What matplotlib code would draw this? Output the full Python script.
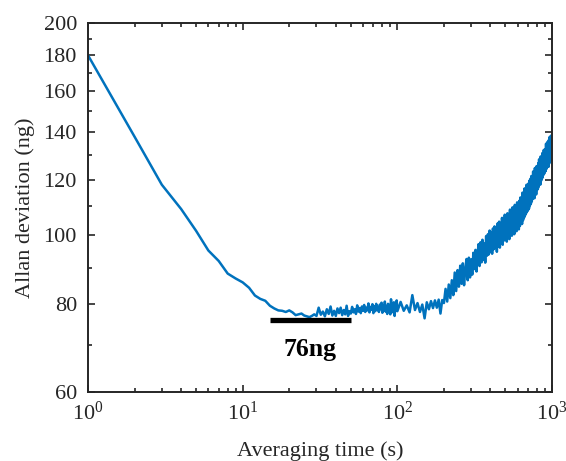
import numpy as np
import matplotlib
matplotlib.use("Agg")
import matplotlib.pyplot as plt
from matplotlib.ticker import NullFormatter, LogLocator

plt.rcParams['font.family'] = ['Liberation Serif', 'DejaVu Serif']
plt.rcParams['mathtext.fontset'] = 'custom'
plt.rcParams['mathtext.rm'] = 'Liberation Serif'

# averaging time grids (s)
tau_a = np.arange(1, 31)
tau_b = np.arange(31, 101)
tau_c = np.arange(105, 1001, 5)

# Allan deviation (ng)
adev_a = [180.0, 138.0, 118.0, 109.0, 101.5, 95.2, 92.0, 88.3, 86.9, 85.8,
          84.3, 82.2, 81.3, 80.8, 79.5, 78.8, 78.3, 78.2, 77.9, 78.3,
          77.8, 77.1, 77.3, 77.5, 77.0, 76.8, 76.6, 76.9, 77.3, 76.9]
adev_b = [79.0, 77.2, 78.0, 76.8, 78.6, 77.4, 79.3, 77.0, 78.2, 76.9,
          78.8, 77.6, 79.0, 77.1, 78.4, 77.3, 79.5, 76.9, 78.1, 77.5,
          79.2, 77.8, 78.6, 77.4, 79.6, 78.0, 78.9, 77.6, 79.3, 78.2,
          79.7, 77.9, 79.0, 78.3, 80.1, 77.8, 79.2, 78.5, 79.9, 77.6,
          79.4, 78.1, 80.0, 78.4, 79.1, 77.9, 79.8, 78.6, 80.3, 77.7,
          79.5, 78.2, 80.6, 78.0, 79.2, 77.4, 80.0, 78.5, 79.7, 77.3,
          81.2, 78.6, 79.4, 77.8, 80.4, 76.9, 79.6, 78.3, 80.9, 78.1]
adev_c = [80.5, 78.2, 79.6, 77.8, 82.3, 78.4, 80.2, 77.9, 79.8, 76.3,
          80.4, 78.6, 80.7, 78.9, 80.9, 79.0, 81.1, 77.5, 81.0, 80.2,
          84.0, 80.6, 85.2, 81.5, 86.4, 82.3, 88.6, 83.4, 89.3, 84.6,
          90.6, 85.4, 91.3, 85.0, 89.7, 92.6, 86.4, 93.0, 87.2, 92.5,
          88.0, 94.5, 89.6, 95.4, 88.9, 94.0, 97.2, 90.5, 97.8, 91.6,
          98.6, 92.3, 97.4, 91.5, 99.8, 93.6, 100.4, 94.0, 101.6, 94.7,
          101.0, 94.2, 102.3, 95.6, 103.0, 96.0, 101.4, 94.8, 104.0, 96.5,
          104.6, 96.1, 103.0, 97.6, 105.9, 97.0, 104.5, 98.4, 107.0, 98.6,
          105.8, 98.0, 107.5, 99.4, 105.6, 98.8, 108.8, 100.2, 107.4, 99.9,
          109.6, 101.0, 108.3, 100.4, 110.5, 102.0, 109.2, 101.4, 111.4, 102.8,
          110.8, 102.0, 112.0, 103.1, 113.2, 104.6, 112.3, 103.8, 115.0, 105.1,
          114.2, 106.0, 116.6, 106.8, 115.4, 107.5, 118.0, 108.1, 116.9, 108.6,
          118.5, 109.2, 119.6, 110.3, 120.3, 110.9, 121.4, 111.7, 119.8, 112.6,
          123.2, 113.5, 122.0, 112.9, 124.6, 114.8, 123.7, 114.3, 125.4, 116.0,
          125.0, 116.3, 126.6, 117.2, 128.2, 118.6, 127.0, 118.0, 129.4, 119.5,
          128.6, 120.3, 130.8, 120.9, 129.3, 121.8, 132.2, 122.3, 131.1, 123.0,
          132.5, 123.4, 134.9, 124.2, 133.4, 124.9, 135.7, 125.5, 134.3, 125.1,
          136.6, 126.5, 137.9, 127.2, 136.1, 127.9, 138.5, 128.6, 138.0, 131.0]

tau = np.concatenate([tau_a, tau_b, tau_c])
adev = np.concatenate([adev_a, adev_b, adev_c])

# minimum marker
min_tau = [15, 50]
min_val = [76, 76]
min_label = '76ng'

yticks = [60, 80, 100, 120, 140, 160, 180, 200]
yminor = [70, 90, 110, 130, 150, 170, 190]

fig = plt.figure(figsize=(5.66, 4.61), dpi=100)
ax = fig.add_axes([0.1555, 0.1497, 0.8198, 0.8004])

ax.plot(tau, adev, color=(0, 0.447, 0.741), lw=1.8)
ax.plot(min_tau, min_val, color='black', lw=3.8, solid_capstyle='butt')
ax.text(27.2, 69.0, min_label, ha='center', va='center',
        fontsize=18.5, fontweight='bold')

ax.set_xscale('log')
ax.set_yscale('log')
ax.set_xlim(1, 1000)
ax.set_ylim(60, 200)

ax.set_yticks(yticks)
ax.set_yticklabels([str(v) for v in yticks])
ax.set_yticks(yminor, minor=True)
ax.yaxis.set_minor_formatter(NullFormatter())
ax.xaxis.set_minor_locator(LogLocator(base=10, subs=np.arange(2, 10)))
ax.xaxis.set_minor_formatter(NullFormatter())

ax.tick_params(which='both', direction='in', top=True, right=True,
               labelsize=16, width=1.2, colors='#262626')
ax.tick_params(which='major', length=5)
ax.tick_params(axis='y', which='major', pad=8)
ax.tick_params(axis='x', which='major', pad=7)
ax.tick_params(which='minor', length=3)
for s in ax.spines.values():
    s.set_linewidth(1.4)
    s.set_color('#262626')

ax.set_xlabel('Averaging time (s)', fontsize=16, color='#262626', labelpad=12)
ax.set_ylabel('Allan deviation (ng)', fontsize=16, color='#262626', labelpad=6)

fig.savefig('out.png', dpi=100)
